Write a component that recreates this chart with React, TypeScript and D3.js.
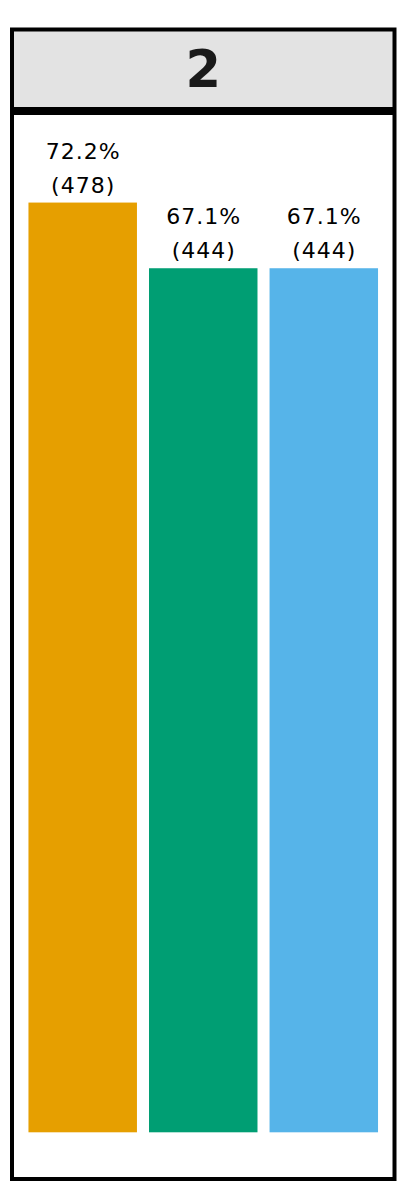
import * as d3 from 'd3';
import { type FC } from 'react';

// Facet label and bar data
const facetLabel = '2';
const groups = ['A', 'B', 'C'];
const percents = [72.2, 67.1, 67.1];
const counts = [478, 444, 444];
const colors = ['#E69F00', '#009E73', '#56B4E9'];

const W = 413;
const H = 1194;

const App: FC = () => {
  const panel = { left: 12, right: 394.5, top: 113, bottom: 1179 };
  const strip = { top: 29.5, bottom: 109 };

  const xScale = d3
    .scaleBand<string>()
    .domain(groups)
    .range([panel.left + 2, panel.right - 2])
    .paddingInner(0.1)
    .paddingOuter(0.12);

  const yScale = d3.scaleLinear().domain([0, 79]).range([1132.3, panel.top + 2]);

  const font = '"DejaVu Sans", sans-serif';

  return (
    <div style={{ position: 'absolute', left: 0, top: 0, width: W, height: H, background: '#fff' }}>
      <svg width={W} height={H} style={{ display: 'block' }}>
        {/* Strip */}
        <rect
          x={panel.left}
          y={strip.top}
          width={panel.right - panel.left}
          height={strip.bottom - strip.top}
          fill="#E3E3E3"
          stroke="#000"
          strokeWidth={4}
        />
        <text
          x={(panel.left + panel.right) / 2}
          y={87.3}
          textAnchor="middle"
          fontFamily={font}
          fontWeight="bold"
          fontSize={51}
          fill="#1A1A1A"
        >
          {facetLabel}
        </text>

        {/* Panel */}
        <rect
          x={panel.left}
          y={panel.top}
          width={panel.right - panel.left}
          height={panel.bottom - panel.top}
          fill="#fff"
          stroke="#000"
          strokeWidth={4}
        />

        {/* Bars */}
        {groups.map((g, i) => {
          const x = xScale(g) ?? 0;
          const y0 = yScale(0);
          const y1 = yScale(percents[i]);
          const cx = x + xScale.bandwidth() / 2 + 0.5;
          return (
            <g key={g}>
              <rect
                x={x}
                y={y1}
                width={xScale.bandwidth()}
                height={y0 - y1}
                fill={colors[i]}
              />
              <text
                x={cx}
                y={y1 - 44}
                textAnchor="middle"
                fontFamily={font}
                fontSize={22}
                letterSpacing={1}
                fill="#000"
              >
                {`${percents[i].toFixed(1)}%`}
              </text>
              <text
                x={cx}
                y={y1 - 10}
                textAnchor="middle"
                fontFamily={font}
                fontSize={22}
                letterSpacing={1}
                fill="#000"
              >
                {`(${counts[i]})`}
              </text>
            </g>
          );
        })}
      </svg>
    </div>
  );
};

export default App;
